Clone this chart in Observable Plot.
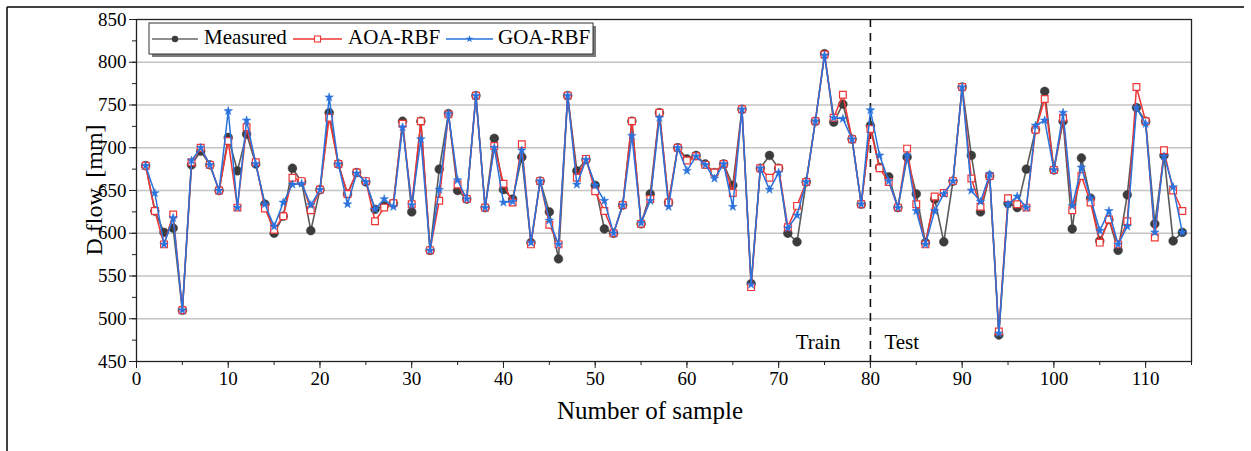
<!DOCTYPE html>
<html><head><meta charset="utf-8">
<script src="https://cdn.jsdelivr.net/npm/d3@7"></script>
<script src="https://cdn.jsdelivr.net/npm/@observablehq/plot@0.6"></script>
<style>
body{margin:0;background:#fff;}
#chart{position:relative;width:1251px;height:451px;overflow:hidden;background:#fff}
</style>
</head><body><div id="chart"></div>
<script>
// ---- data ----
const samples = d3.range(1, 115);
const measured = [679,626,601,606,510,680,696,680,650,712,673,716,681,634,600,620,676,660,603,651,
  741,681,646,671,660,628,632,635,731,625,731,580,675,740,650,640,761,630,711,651,
  640,689,589,661,625,570,761,673,686,656,605,600,633,731,611,646,741,636,700,687,
  691,681,671,681,656,745,541,676,691,676,600,590,660,731,810,730,751,710,634,726,
  677,666,630,689,646,589,640,590,661,771,691,625,667,481,635,630,675,721,766,674,
  731,605,688,641,591,616,580,645,747,731,611,691,591,601];
const aoaRbf = [679,626,587,622,510,683,700,680,650,708,630,724,683,629,604,620,665,661,627,651,
  735,681,646,671,661,614,630,635,728,634,731,580,638,739,657,640,761,630,702,658,
  636,704,587,661,610,587,761,665,687,649,626,600,633,731,611,640,741,636,700,685,
  690,680,671,681,647,745,537,676,665,676,607,632,660,731,809,735,762,710,634,722,
  676,660,630,699,634,587,643,647,661,771,664,631,667,485,641,634,630,721,757,674,
  735,627,667,636,589,616,587,614,771,731,595,697,650,626];
const goaRbf = [679,647,587,618,510,685,700,680,650,743,630,732,681,634,608,636,657,658,633,651,
  759,681,634,670,660,628,640,631,724,633,710,580,651,740,662,640,761,630,700,636,
  637,697,589,661,615,587,761,657,686,656,638,600,633,714,612,638,735,631,700,673,
  690,680,664,681,631,745,540,676,651,671,606,621,660,731,808,735,734,710,634,744,
  691,661,630,691,626,587,626,646,661,771,650,637,669,483,634,643,630,726,732,674,
  741,632,677,641,603,626,587,608,747,728,601,690,654,601];
const seriesNames = ["Measured", "AOA-RBF", "GOA-RBF"];
const seriesColors = ["#555555", "#f03535", "#2a72dd"];
const xTicks = [0,10,20,30,40,50,60,70,80,90,100,110];
const yTicks = [450,500,550,600,650,700,750,800,850];
const splitSample = 80;
const phaseLabels = ["Train", "Test"];
const phaseLabelValue = 473;

// ---- build tables ----
const allSeries = [measured, aoaRbf, goaRbf];
const rows = allSeries.map((vals, k) => samples.map((s, i) => ({sample: s, value: vals[i], series: seriesNames[k]})));

const font = "'Liberation Serif', 'Times New Roman', serif";

const plot = Plot.plot({
  width: 1251,
  height: 451,
  marginLeft: 136,
  marginRight: 60,
  marginTop: 19,
  marginBottom: 90,
  style: {fontFamily: font, fontSize: "19px", color: "#000", background: "#fff"},
  x: {domain: [0, 115]},
  y: {domain: [450, 850]},
  marks: [
    Plot.gridY(yTicks.filter(v => v > 450 && v < 850), {stroke: "#c4c4c4", strokeOpacity: 1, strokeWidth: 1.3}),
    Plot.axisY(d3.range(450, 851, 25), {tickSize: 4, tickFormat: () => "", label: null, stroke: "#222"}),
    Plot.axisY(yTicks, {tickSize: 7, tickPadding: 3, label: null, fontSize: 19, stroke: "#222"}),
    Plot.axisX(d3.range(0, 116, 5), {tickSize: 4, tickFormat: () => "", label: null, stroke: "#222"}),
    Plot.axisX(xTicks, {tickSize: 7, tickPadding: 3, label: null, fontSize: 19, stroke: "#222"}),
    Plot.frame({stroke: "#222", strokeWidth: 1.3}),
    Plot.ruleX([splitSample], {stroke: "#111", strokeWidth: 1.6, strokeDasharray: "8,6"}),
    Plot.text([phaseLabels[0]], {x: () => splitSample, y: () => phaseLabelValue, text: d => d, textAnchor: "end", dx: -30, fontSize: 21}),
    Plot.text([phaseLabels[1]], {x: () => splitSample, y: () => phaseLabelValue, text: d => d, textAnchor: "start", dx: 14, fontSize: 21}),
    // Measured
    Plot.line(rows[0], {x: "sample", y: "value", stroke: "#5a5a5a", strokeWidth: 1.6}),
    Plot.dot(rows[0], {x: "sample", y: "value", r: 4.4, fill: "#3c3c3c", stroke: "#3c3c3c", strokeWidth: 0.5}),
    // AOA-RBF
    Plot.line(rows[1], {x: "sample", y: "value", stroke: seriesColors[1], strokeWidth: 1.5}),
    Plot.dot(rows[1], {x: "sample", y: "value", symbol: "square", r: 3.8, fill: "#fff", stroke: seriesColors[1], strokeWidth: 1.2}),
    // GOA-RBF
    Plot.line(rows[2], {x: "sample", y: "value", stroke: seriesColors[2], strokeWidth: 1.5}),
    Plot.dot(rows[2], {x: "sample", y: "value", symbol: "star", r: 2.7, fill: seriesColors[2], stroke: seriesColors[2], strokeWidth: 0.5})
  ]
});

const svg = d3.select(plot);
// axis titles
svg.append("text").attr("x", 650).attr("y", 413).attr("text-anchor", "middle").attr("dominant-baseline", "middle")
  .attr("font-size", 25).attr("font-family", font).attr("fill", "#000").text("Number of sample");
svg.append("text").attr("transform", "translate(96,190) rotate(-90)").attr("text-anchor", "middle").attr("dominant-baseline", "middle")
  .attr("font-size", 24).attr("font-family", font).attr("fill", "#000").text("D flow, [mm]");

// legend
const lg = svg.append("g");
lg.append("rect").attr("x", 152).attr("y", 26).attr("width", 444).attr("height", 31).attr("fill", "#7a7a7a");
lg.append("rect").attr("x", 149).attr("y", 23).attr("width", 444).attr("height", 31).attr("fill", "#fff").attr("stroke", "#333").attr("stroke-width", 1);
const entries = [
  {x0: 152, x1: 198, tx: 204},
  {x0: 293, x1: 342, tx: 348},
  {x0: 446, x1: 493, tx: 498}
];
const ly = 39;
entries.forEach((e, k) => {
  lg.append("line").attr("x1", e.x0).attr("x2", e.x1).attr("y1", ly).attr("y2", ly)
    .attr("stroke", k === 0 ? "#6a6a6a" : seriesColors[k]).attr("stroke-width", 1.6);
  const cx = (e.x0 + e.x1) / 2;
  if (k === 0) lg.append("circle").attr("cx", cx).attr("cy", ly).attr("r", 3.2).attr("fill", "#3c3c3c");
  if (k === 1) lg.append("rect").attr("x", cx - 3).attr("y", ly - 3).attr("width", 6).attr("height", 6).attr("fill", "#fff").attr("stroke", seriesColors[1]).attr("stroke-width", 1.1);
  if (k === 2) lg.append("path").attr("transform", `translate(${cx},${ly})`).attr("d", d3.symbol(d3.symbolStar, 18)()).attr("fill", seriesColors[2]);
  lg.append("text").attr("x", e.tx).attr("y", ly).attr("text-anchor", "start").attr("dominant-baseline", "middle").attr("font-size", 21)
    .attr("font-family", font).attr("fill", "#000").text(seriesNames[k]);
});

// page border lines (document table frame)
svg.append("line").attr("x1", 7).attr("x2", 1244).attr("y1", 7).attr("y2", 7).attr("stroke", "#000").attr("stroke-width", 1.5);
svg.append("line").attr("x1", 7).attr("x2", 7).attr("y1", 7).attr("y2", 451).attr("stroke", "#000").attr("stroke-width", 1.5);

document.getElementById("chart").appendChild(plot);
</script>
</body></html>
